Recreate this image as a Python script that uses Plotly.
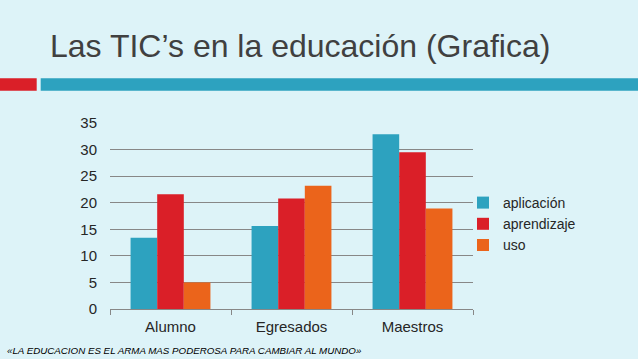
import plotly.graph_objects as go

categories = ["Alumno", "Egresados", "Maestros"]
aplicacion = [13.4, 15.6, 32.9]
aprendizaje = [21.6, 20.8, 29.5]
uso = [5.0, 23.2, 18.9]
series_names = ["aplicación", "aprendizaje", "uso"]
series_colors = ["#2DA2BF", "#DA1F28", "#EB641B"]
y_ticks = [0, 5, 10, 15, 20, 25, 30, 35]

title_text = "Las TIC’s en la educación (Grafica)"
footer_text = "«LA EDUCACION ES EL ARMA MAS PODEROSA PARA CAMBIAR AL MUNDO»"

BG = "#DDF3F8"
W, H = 638, 359
ML, MR, MT, MB = 110, 165, 123, 50
PW, PH = W - ML - MR, H - MT - MB


def px_x(px):
    return (px - ML) / PW


def px_y(py):
    return (H - MB - py) / PH


fig = go.Figure()
for name, vals, col in zip(series_names, [aplicacion, aprendizaje, uso], series_colors):
    fig.add_trace(go.Bar(x=categories, y=vals, name=name, marker=dict(color=col, line=dict(width=0))))

fig.update_layout(
    width=W, height=H,
    margin=dict(l=ML, r=MR, t=MT, b=MB, pad=0),
    paper_bgcolor=BG, plot_bgcolor=BG,
    barmode="group", bargap=0.34, bargroupgap=0,
    font=dict(family="Liberation Sans, Arial, sans-serif", color="#262626", size=15),
    showlegend=True,
    legend=dict(x=px_x(463), y=px_y(187), xanchor="left", yanchor="top",
                bgcolor="rgba(0,0,0,0)", font=dict(size=14, color="#262626"),
                itemwidth=30, tracegroupgap=0),
)

fig.update_yaxes(range=[0, 35], tickvals=y_ticks, showgrid=True, gridcolor="#878787", gridwidth=1,
                 zeroline=False, showline=False, ticks="", ticklabelstandoff=12,
                 tickfont=dict(size=15, color="#262626"), fixedrange=True)
fig.update_xaxes(showline=True, linecolor="#878787", linewidth=1, ticks="outside", tickson="boundaries",
                 ticklen=5, tickcolor="#878787", ticklabelstandoff=4,
                 tickfont=dict(size=15, color="#262626"), fixedrange=True)

# header decoration bars
fig.add_shape(type="rect", xref="paper", yref="paper", x0=px_x(0), x1=px_x(36.7), y0=px_y(90.7), y1=px_y(78.3),
              fillcolor="#DA1F28", line=dict(width=0), layer="below")
fig.add_shape(type="rect", xref="paper", yref="paper", x0=px_x(40.7), x1=px_x(W), y0=px_y(90.7), y1=px_y(78.3),
              fillcolor="#2DA2BF", line=dict(width=0), layer="below")

fig.add_annotation(text=title_text, xref="paper", yref="paper", x=px_x(48), y=px_y(46),
                   xanchor="left", yanchor="middle", showarrow=False,
                   font=dict(size=32, color="#404040", family="Liberation Sans, Arial, sans-serif"))
fig.add_annotation(text="<i>" + footer_text + "</i>", xref="paper", yref="paper", x=px_x(5), y=px_y(350),
                   xanchor="left", yanchor="middle", showarrow=False,
                   font=dict(size=9.75, color="#000000", family="Liberation Sans, Arial, sans-serif"))

fig.write_html("out.html", config={"displayModeBar": False})
